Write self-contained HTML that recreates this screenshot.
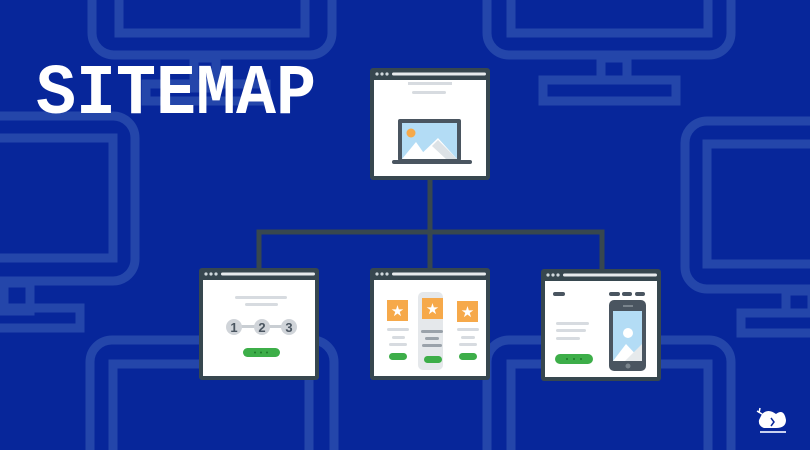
<!DOCTYPE html>
<html><head><meta charset="utf-8"><style>
html,body{margin:0;padding:0;background:#07269a;width:810px;height:450px;overflow:hidden;}
svg{display:block;overflow:hidden}
</style></head><body>
<svg width="810" height="450" viewBox="0 0 810 450" xmlns="http://www.w3.org/2000/svg" overflow="hidden">
<defs>
  <clipPath id="c"><rect width="810" height="450"/></clipPath>
  <g id="win">
    <rect x="0" y="0" width="120" height="112" rx="3" fill="#37474f"/>
    <rect x="4" y="12" width="112" height="96" fill="#fff"/>
    <circle cx="7" cy="6" r="1.6" fill="#cfd8dc"/>
    <circle cx="12" cy="6" r="1.6" fill="#cfd8dc"/>
    <circle cx="17" cy="6" r="1.6" fill="#cfd8dc"/>
    <rect x="22" y="4.5" width="94" height="3" rx="1.5" fill="#e6eaec"/>
  </g>
</defs>
<rect width="810" height="450" fill="#07269a"/>
<g fill="none" stroke="#2446aa" stroke-width="9" clip-path="url(#c)">
  <rect x="92" y="-40" width="240" height="95" rx="22"/>
  <rect x="119" y="-40" width="186" height="73"/>
  <rect x="194" y="58" width="22" height="30"/>
  <rect x="146" y="84" width="120" height="17"/>
  <rect x="487" y="-40" width="244" height="95" rx="22"/>
  <rect x="511" y="-40" width="197" height="73"/>
  <rect x="601" y="58" width="26" height="22"/>
  <rect x="543" y="80" width="133" height="21"/>
  <rect x="-60" y="116" width="195" height="165" rx="22"/>
  <rect x="-60" y="138" width="173" height="120"/>
  <rect x="4" y="283" width="26" height="28"/>
  <rect x="-20" y="308" width="100" height="20"/>
  <rect x="685" y="121" width="200" height="168" rx="22"/>
  <rect x="707" y="144" width="160" height="120"/>
  <rect x="786" y="291" width="26" height="22"/>
  <rect x="741" y="313" width="90" height="20"/>
  <rect x="90" y="340" width="244" height="160" rx="22"/>
  <rect x="113" y="364" width="196" height="120"/>
  <rect x="487" y="340" width="244" height="160" rx="22"/>
  <rect x="511" y="364" width="197" height="120"/>
</g>

<text x="36" y="113" font-family="Liberation Mono, monospace" font-weight="bold" font-size="71" fill="#fff" textLength="280" lengthAdjust="spacingAndGlyphs">SITEMAP</text>

<g stroke="#37474f" stroke-width="5" fill="none">
  <line x1="430" y1="178" x2="430" y2="272"/>
  <polyline points="259,272 259,232 602,232 602,272"/>
</g>

<use href="#win" x="370" y="68"/>
<rect x="408" y="82" width="44" height="3" fill="#d7dbe0"/>
<rect x="412" y="91" width="34" height="3" rx="1.5" fill="#d7dbe0"/>
<rect x="398" y="119" width="63" height="42" rx="2" fill="#4a5560"/>
<rect x="402" y="123" width="55" height="36" fill="#b3dcf5"/>
<circle cx="411" cy="133" r="4.5" fill="#f6a94a"/>
<polygon points="402,159 416,142 428,159" fill="#fff"/>
<polygon points="416,159 438,138 457,159" fill="#fff"/>
<polygon points="432,146 438,140 457,159 446,159" fill="#dde2e6"/>
<rect x="392" y="160" width="80" height="4" rx="2" fill="#4a5560"/>

<use href="#win" x="199" y="268"/>
<rect x="235" y="296" width="52" height="3" rx="1.5" fill="#d7dbe0"/>
<rect x="245" y="303" width="33" height="3" rx="1.5" fill="#d7dbe0"/>
<rect x="234" y="325" width="60" height="3" fill="#c9ced3"/>
<circle cx="234" cy="327" r="8" fill="#d0d4d9"/>
<circle cx="262" cy="327" r="8" fill="#d0d4d9"/>
<circle cx="289" cy="327" r="8" fill="#d0d4d9"/>
<g font-family="Liberation Sans, sans-serif" font-weight="bold" font-size="13" fill="#4a5560" text-anchor="middle">
<text x="234" y="332">1</text><text x="262" y="332">2</text><text x="289" y="332">3</text></g>
<rect x="243" y="348" width="37" height="9" rx="4.5" fill="#3dae49"/>
<g fill="#1e7a2a"><circle cx="255" cy="352.5" r="1"/><circle cx="261" cy="352.5" r="1"/><circle cx="267" cy="352.5" r="1"/></g>

<use href="#win" x="370" y="268"/>
<rect x="418" y="292" width="25" height="78" rx="5" fill="#e5e8eb"/>
<g fill="#f6a94a">
<rect x="387" y="300" width="21" height="21"/>
<rect x="422" y="298" width="21" height="21"/>
<rect x="457" y="301" width="21" height="21"/>
</g>
<g fill="#fff" font-family="DejaVu Sans, sans-serif" font-size="15" text-anchor="middle">
<text x="397.5" y="316">★</text><text x="432.5" y="314">★</text><text x="467.5" y="317">★</text></g>
<g fill="#d7dbe0">
<rect x="387" y="328" width="22" height="3" rx="1.5"/><rect x="392" y="336" width="13" height="3" rx="1.5"/><rect x="389" y="343" width="18" height="3" rx="1.5"/>
<rect x="457" y="328" width="22" height="3" rx="1.5"/><rect x="461" y="336" width="14" height="3" rx="1.5"/><rect x="459" y="343" width="18" height="3" rx="1.5"/>
</g>
<g fill="#9aa2aa">
<rect x="421" y="330" width="22" height="3" rx="1.5"/><rect x="425" y="337" width="14" height="3" rx="1.5"/><rect x="422" y="344" width="20" height="3" rx="1.5"/>
</g>
<g fill="#3dae49">
<rect x="389" y="353" width="18" height="7" rx="3.5"/><rect x="424" y="356" width="18" height="7" rx="3.5"/><rect x="459" y="353" width="18" height="7" rx="3.5"/>
</g>

<use href="#win" x="541" y="269"/>
<g fill="#4a5560">
<rect x="553" y="292" width="12" height="4" rx="2"/>
<rect x="609" y="292" width="11" height="4" rx="2"/><rect x="622" y="292" width="10" height="4" rx="2"/><rect x="635" y="292" width="10" height="4" rx="2"/>
</g>
<g fill="#d7dbe0">
<rect x="556" y="322" width="33" height="3" rx="1.5"/><rect x="556" y="329" width="30" height="3" rx="1.5"/><rect x="556" y="337" width="24" height="3" rx="1.5"/>
</g>
<rect x="555" y="354" width="38" height="10" rx="5" fill="#3dae49"/>
<g fill="#1e7a2a"><circle cx="567" cy="359" r="1"/><circle cx="574" cy="359" r="1"/><circle cx="581" cy="359" r="1"/></g>
<rect x="609" y="300" width="37" height="71" rx="5" fill="#4a5560"/>
<rect x="613" y="311" width="29" height="50" fill="#b3dcf5"/>
<circle cx="628" cy="333" r="5" fill="#fff"/>
<polygon points="613,361 626,344 642,361" fill="#fff"/>
<polygon points="625,361 642,344 642,361" fill="#e6eaec"/>
<rect x="623" y="305" width="10" height="2" fill="#7a848c"/>
<circle cx="628" cy="366" r="2.5" fill="#7a848c"/>

<g fill="#fff">
<path d="M762 414 q6 -6 14 0 q8 -6 10 6 q0 8 -10 8 h-12 q-6 -2 -5 -8 z"/>
<rect x="760" y="431" width="26" height="2" fill="#c8d0f0"/>
</g>
<path d="M771 418 l3 4 l-3 4" stroke="#07269a" stroke-width="1.5" fill="none"/>
<path d="M757 411 l5 3 M760 408 l-1 5" stroke="#fff" stroke-width="1.5"/>
</svg>
</body></html>
